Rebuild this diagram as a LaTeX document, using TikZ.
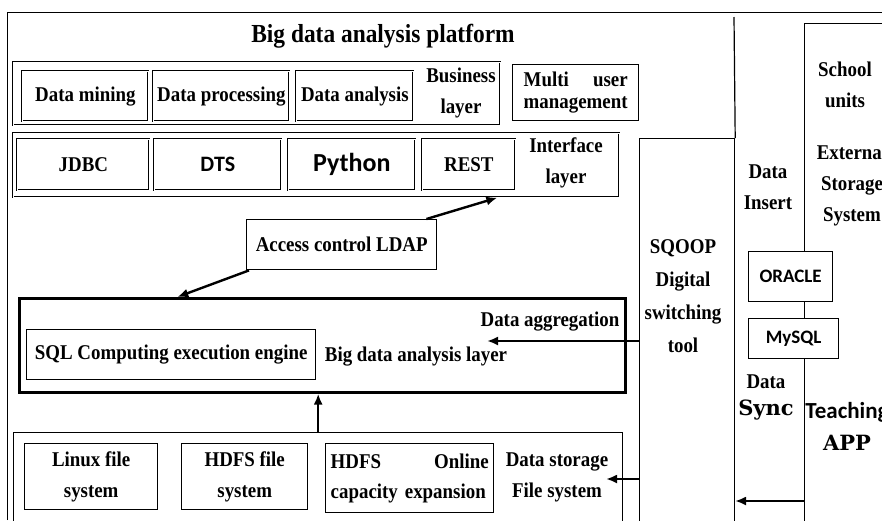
\documentclass[tikz,border=0pt]{standalone}
\usepackage{fontspec}
\setmainfont[FakeStretch=0.9]{Liberation Serif}
\newfontfamily\calfont{Carlito}
\newfontfamily\djvfont{DejaVu Serif}
\usetikzlibrary{calc}
\usetikzlibrary{arrows.meta}

\begin{document}
\begin{tikzpicture}[x=1pt,y=-1pt,
  box/.style={draw, line width=1.4pt, fill=white, inner sep=2pt, anchor=north west,
    font=\bfseries\fontsize{21}{31}\selectfont},
  dbox/.style={box, line width=0.7pt, double, double distance=0.8pt},
  lbl/.style={align=center, inner sep=0pt, font=\bfseries\fontsize{21}{31}\selectfont},
  sans/.style={font=\calfont\bfseries\fontsize{#1}{26}\selectfont},
  arr/.style={-{Latex[length=11pt,width=9pt]}, line width=2.4pt}]
  \useasboundingbox (0,0) rectangle (882,520);

  \draw [line width=0.8pt] (7,520) -- (7,12) -- (882,12);
  \node [lbl, font=\bfseries\fontsize{26}{30}\selectfont] (title) at (383,36) {Big data analysis platform};

  \node [dbox, minimum width=487pt, minimum height=63pt] (busn) at (13,62) {};
  \node [dbox, minimum width=126pt, minimum height=50pt] (mining) at (22,71) {Data mining};
  \node [dbox, minimum width=136pt, minimum height=50pt] (proc) at (153,71) {Data processing};
  \node [dbox, minimum width=117pt, minimum height=50pt] (anal) at (296,71) {Data analysis};
  \node [lbl] (busl) at (461,93) {Business\\layer};
  \node [box, minimum width=126pt, minimum height=56pt, text width=104pt, align=left,
    font=\bfseries\fontsize{21}{22}\selectfont] (multi) at (512,64) {Multi\hfill user\\management};

  \node [dbox, minimum width=606pt, minimum height=64pt] (iface) at (13,133) {};
  \node [dbox, minimum width=132pt, minimum height=51pt] (jdbc) at (17,139) {JDBC};
  \node [dbox, minimum width=127pt, minimum height=51pt, sans=22] (dts) at (154,139) {DTS};
  \node [dbox, minimum width=127pt, minimum height=51pt, sans=26] (python) at (288,139) {Python};
  \node [dbox, minimum width=93pt, minimum height=51pt] (rest) at (422,139) {REST};
  \node [lbl] (ifl) at (566,163) {Interface\\layer};

  \node [box, minimum width=190pt, minimum height=50pt] (ldap) at (246,219) {Access control LDAP};

  \node [box, line width=2.6pt, minimum width=606pt, minimum height=94pt] (analysis) at (18,297) {};
  \node [box, minimum width=289pt, minimum height=50pt] (sql) at (26,329) {SQL Computing execution engine};
  \node [lbl] (bdl) at (416,357) {Big data analysis layer};
  \node [lbl] (agg) at (550,322) {Data aggregation};

  \node [box, minimum width=609pt, minimum height=110pt] (storage) at (13,432) {};
  \node [box, minimum width=133pt, minimum height=66pt, align=center] (linux) at (24,443) {Linux file\\system};
  \node [box, minimum width=126pt, minimum height=66pt, align=center] (hdfs) at (181,443) {HDFS file\\system};
  \node [box, minimum width=168pt, minimum height=69pt, text width=158pt, align=left,
    font=\bfseries\fontsize{21}{30}\selectfont] (online) at (325,443) {HDFS\hfill Online\\capacity expansion};
  \node [lbl] (dsl) at (557,477) {Data storage\\File system};

  \node [box, line width=1.2pt, minimum width=95pt, minimum height=402pt] (sqoop) at (639,138) {};
  \coordinate (ftop) at (734,17);
  \draw [line width=1.2pt] (sqoop.north east) -- (ftop);
  \node [lbl, font=\bfseries\fontsize{21}{33}\selectfont] (sqoopl) at (683,296) {SQOOP\\Digital\\switching\\tool};

  \node [box, line width=1.2pt, minimum width=100pt, minimum height=520pt] (school) at (804,23) {};
  \node [lbl] (schl) at (845,85) {School\\units};
  \node [lbl] (ext) at (852,185) {External\\Storage\\System};
  \node [lbl] (ins) at (768,187) {Data\\Insert};
  \node [box, line width=1.2pt, minimum width=84pt, minimum height=50pt, sans=19] (oracle) at (748,251) {ORACLE};
  \node [box, line width=1.2pt, minimum width=90pt, minimum height=40pt, sans=19] (mysql) at (748,318) {MySQL};
  \node [lbl, font=\bfseries\fontsize{21}{27}\selectfont] (sync) at (766,397) {Data\\{\djvfont\fontsize{21}{27}\selectfont Sync}};
  \node [lbl, font=\bfseries\fontsize{23}{32}\selectfont] (teach) at (847,426) {{\calfont Teaching}\\{\djvfont\fontsize{21}{32}\selectfont APP}};

  \draw [arr] ($(ldap.north east)+(-11,0)$) -- ($(iface.south)+(181,0)$);
  \draw [arr] ($(ldap.south west)+(3,0)$) -- ($(analysis.north)+(-145,0)$);
  \draw [arr] (storage.north) -- (storage.north |- analysis.south);
  \coordinate (aggend) at (487,341);
  \draw [arr] (sqoop.west |- aggend) -- (aggend);
  \coordinate (dsend) at (606,479);
  \draw [arr] (sqoop.west |- dsend) -- (dsend);
  \coordinate (syncend) at (735,501);
  \draw [arr] (school.west |- syncend) -- (syncend);
\end{tikzpicture}
\end{document}
